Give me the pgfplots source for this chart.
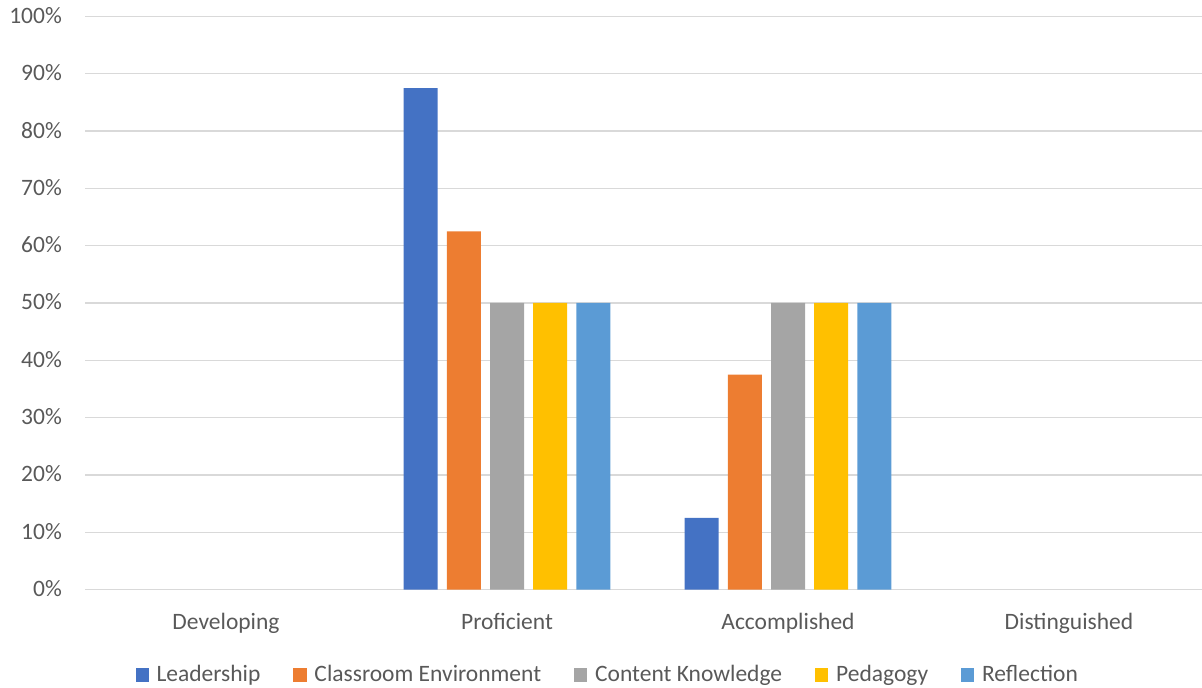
\documentclass[border=0pt]{standalone}
\usepackage{fontspec}
\setmainfont{Carlito}
\usepackage{pgfplots}
\pgfplotsset{compat=1.18}
\definecolor{cA}{HTML}{4472C4}
\definecolor{cB}{HTML}{ED7D31}
\definecolor{cC}{HTML}{A5A5A5}
\definecolor{cD}{HTML}{FFC000}
\definecolor{cE}{HTML}{5B9BD5}
\definecolor{textc}{HTML}{595959}
\definecolor{gridc}{HTML}{D9D9D9}
\begin{document}
\fontsize{23.5}{28}\selectfont
\begin{tikzpicture}
\begin{axis}[
  scale only axis, width=1116.5pt, height=573pt,
  xmin=-0.5, xmax=3.4733, ymin=0, ymax=100,
  axis line style={draw=none},
  tick style={draw=none},
  major tick length=0pt,
  ymajorgrids, grid style={color=gridc, line width=1.3pt},
  ytick={0,10,20,30,40,50,60,70,80,90,100},
  yticklabels={0\%,10\%,20\%,30\%,40\%,50\%,60\%,70\%,80\%,90\%,100\%},
  xtick={0,1,2,3},
  xticklabels={Developing,Proficient,Accomplished,Distinguished},
  tick label style={text=textc, font=\fontsize{23.5}{28}\selectfont},
  yticklabel style={anchor=base east, inner sep=0pt, xshift=-23.5pt, yshift=-7pt},
  xticklabel style={anchor=base, inner sep=0pt, yshift=-40pt},
  legend columns=5,
  legend style={draw=none, fill=none, at={(rel axis cs:0.4677,0)}, anchor=center,
    yshift=-85.5pt, font=\fontsize{23.5}{28}\selectfont, text=textc,
    /tikz/every even column/.append style={column sep=31pt}},
  legend image code/.code={\path[#1, draw=none] (0pt,-6.65pt) rectangle (13.3pt,6.65pt);\path (19pt,0pt);},
]
\addplot[ybar, bar width=0.121, bar shift=-0.3074, fill=cA, draw=none] coordinates {(1,87.5) (2,12.5)};
\addplot[ybar, bar width=0.121, bar shift=-0.1537, fill=cB, draw=none] coordinates {(1,62.5) (2,37.5)};
\addplot[ybar, bar width=0.121, bar shift=0, fill=cC, draw=none] coordinates {(1,50) (2,50)};
\addplot[ybar, bar width=0.121, bar shift=0.1537, fill=cD, draw=none] coordinates {(1,50) (2,50)};
\addplot[ybar, bar width=0.121, bar shift=0.3074, fill=cE, draw=none] coordinates {(1,50) (2,50)};
\legend{Leadership,Classroom Environment,Content Knowledge,Pedagogy,Reflection}
\end{axis}
\pgfresetboundingbox
\useasboundingbox (-85.5pt,-98.5pt) rectangle (1116.5pt,589.5pt);
\end{tikzpicture}
\end{document}
